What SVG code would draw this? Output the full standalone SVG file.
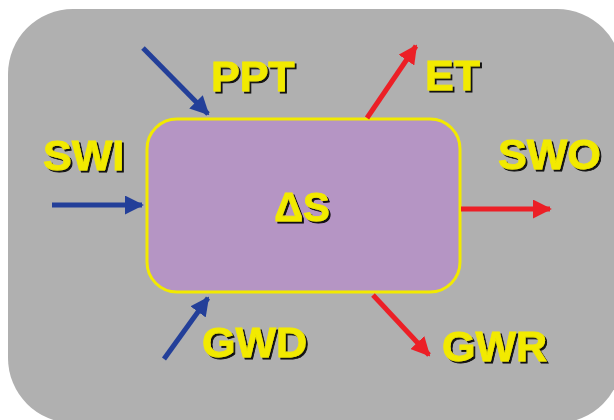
<svg xmlns="http://www.w3.org/2000/svg" width="614" height="420" viewBox="0 0 614 420">
<defs>
<filter id="sh" x="-20%" y="-20%" width="140%" height="140%">
<feDropShadow dx="2" dy="2" stdDeviation="0.6" flood-color="#000" flood-opacity="0.9"/>
</filter>
<marker id="hb" viewBox="0 0 10 10" refX="9" refY="5" markerWidth="3.8" markerHeight="3.8" orient="auto" markerUnits="strokeWidth">
<path d="M0,0 L10,5 L0,10 z" fill="#233f99"/>
</marker>
<marker id="hr" viewBox="0 0 10 10" refX="9" refY="5" markerWidth="3.8" markerHeight="3.8" orient="auto" markerUnits="strokeWidth">
<path d="M0,0 L10,5 L0,10 z" fill="#ec1f26"/>
</marker>
<style>
.lbl{font-family:"Liberation Sans",Arial,sans-serif;font-weight:bold;font-size:43px;fill:#f2ea00;stroke:#f2ea00;stroke-width:0.8;filter:url(#sh)}
.blue{stroke:#233f99;stroke-width:5;fill:none;marker-end:url(#hb)}
.red{stroke:#ec1f26;stroke-width:5;fill:none;marker-end:url(#hr)}
</style>
</defs>
<rect x="8" y="9" width="614" height="414" rx="65" fill="#b0b0b0"/>
<g id="storage">
<rect x="147" y="119" width="313" height="173" rx="30" fill="#b595c4" stroke="#f2ea00" stroke-width="3"/>
<text class="lbl" x="302" y="221" text-anchor="middle" style="font-size:40px">ΔS</text>
</g>
<g id="connectors">
<line class="blue" x1="143" y1="48" x2="208" y2="114"/>
<line class="red" x1="367" y1="118" x2="416" y2="46"/>
<line class="blue" x1="52" y1="205" x2="142" y2="205"/>
<line class="red" x1="461" y1="209" x2="550" y2="209"/>
<line class="blue" x1="164" y1="359" x2="208" y2="298"/>
<line class="red" x1="373" y1="295" x2="429" y2="355"/>
</g>
<g id="PPT"><text class="lbl" x="211" y="91">PPT</text></g>
<g id="ET"><text class="lbl" x="425" y="90">ET</text></g>
<g id="SWI"><text class="lbl" x="43" y="170">SWI</text></g>
<g id="SWO"><text class="lbl" x="498" y="169">SWO</text></g>
<g id="GWD"><text class="lbl" x="202" y="357">GWD</text></g>
<g id="GWR"><text class="lbl" x="442" y="361">GWR</text></g>
</svg>
